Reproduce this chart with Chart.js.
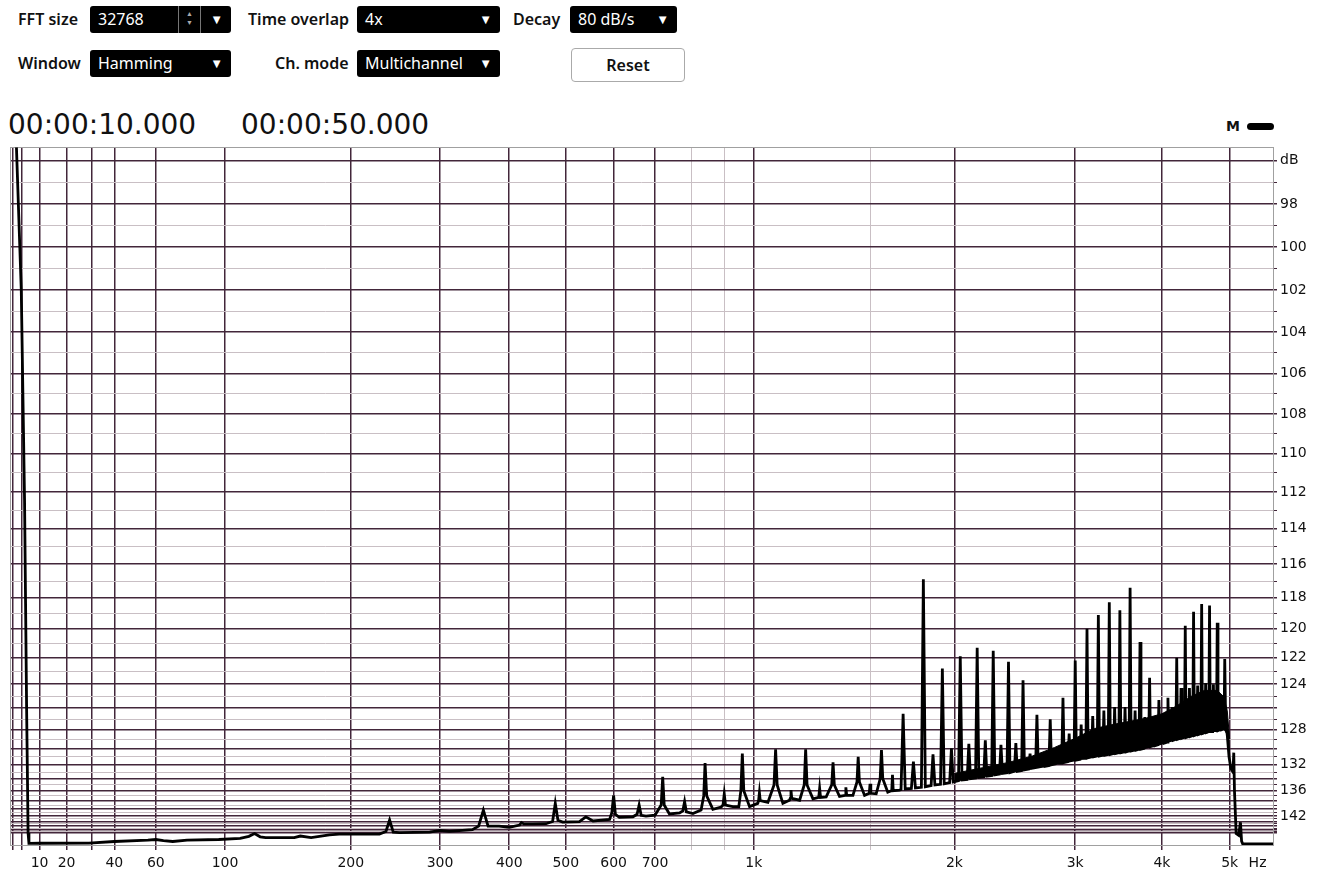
<!DOCTYPE html>
<html>
<head>
<meta charset="utf-8">
<script src="https://cdn.jsdelivr.net/npm/chart.js@4.4.1/dist/chart.umd.min.js"></script>
<style>
  body { margin: 0; background: #fff; width: 1323px; height: 875px; overflow: hidden; position: relative; }
  .lbl { position: absolute; font: 600 16px "Liberation Sans Narrow", "Arial Narrow", "Noto Sans", sans-serif; color: #111; line-height: 27px; white-space: nowrap; }
  .sel { position: absolute; background: #000; color: #fff; border-radius: 3px; height: 27px; box-sizing: border-box;
         padding-left: 8px; font: 16px "Liberation Sans Narrow", "Arial Narrow", "Noto Sans", sans-serif; line-height: 27px; white-space: nowrap; }
  .sel .arr { position: absolute; right: 8px; top: 0; font-size: 13px; }
  .sel .sep { position: absolute; top: 0; width: 1px; height: 27px; background: #777; }
  .sel .spin { position: absolute; top: 3px; font-size: 7px; line-height: 9px; color: #aaa; }
  .btn { position: absolute; left: 571px; top: 48px; width: 114px; height: 34px; box-sizing: border-box; border: 1px solid #aaa;
         border-radius: 4px; background: #fff; text-align: center; font: 600 16px "Liberation Sans Narrow", "Arial Narrow", "Noto Sans", sans-serif; line-height: 32px; color: #111; }
  .time { position: absolute; top: 109px; font: 28px "DejaVu Sans", sans-serif; line-height: 32px; color: #111; }
  .leg { position: absolute; left: 1226px; top: 118px; font: bold 14px "DejaVu Sans", sans-serif; color: #111; }
  .legbar { position: absolute; left: 1247px; top: 123px; width: 27px; height: 7px; border-radius: 4px; background: #000; }
  #wrap { position: absolute; left: 0; top: 136px; width: 1323px; height: 739px; }
</style>
</head>
<body>
<div class="lbl" style="left:18px;top:6px">FFT size</div>
<div class="sel" style="left:90px;top:6px;width:141px">32768
  <span class="sep" style="left:88px"></span><span class="spin" style="left:96px">▲<br>▼</span>
  <span class="sep" style="left:110px"></span><span class="arr">▼</span></div>
<div class="lbl" style="left:248px;top:6px">Time overlap</div>
<div class="sel" style="left:357px;top:6px;width:143px">4x<span class="arr">▼</span></div>
<div class="lbl" style="left:513px;top:6px">Decay</div>
<div class="sel" style="left:570px;top:6px;width:107px">80 dB/s<span class="arr">▼</span></div>

<div class="lbl" style="left:18px;top:50px">Window</div>
<div class="sel" style="left:90px;top:50px;width:141px">Hamming<span class="arr">▼</span></div>
<div class="lbl" style="left:275px;top:50px">Ch. mode</div>
<div class="sel" style="left:357px;top:50px;width:143px">Multichannel<span class="arr">▼</span></div>
<div class="btn">Reset</div>

<div class="time" style="left:8px">00:00:10.000</div>
<div class="time" style="left:241px">00:00:50.000</div>
<div class="leg">M</div><div class="legbar"></div>

<div id="wrap"><canvas id="spectrum" width="1323" height="739"></canvas></div>

<script>
// spectrum trace (Hz / dB below full scale)
const specHz = [
  1.6, 2.1, 3.7, 4.8, 5.5, 5.8, 6.0, 6.3, 10, 29, 40, 56, 60, 64, 69, 77, 96, 110,
  116, 120, 124, 128, 150, 155, 164, 180, 189, 229, 236, 240, 244, 251, 287, 300, 312,
  344, 353, 360, 367, 384, 400, 417, 420, 424, 439, 463, 475, 480, 485, 494, 527, 540, 555,
  591, 596, 600, 604, 613, 645, 655, 660, 665, 677, 700, 716, 720, 724, 738, 766, 775, 780, 785, 804, 828,
  836, 840, 845, 864, 890, 896, 900, 904, 928, 948, 955, 960, 965, 985, 1014, 1017, 1020, 1023, 1051,
  1074, 1080, 1086, 1108, 1134, 1137, 1140, 1143, 1175, 1194, 1200, 1206, 1231, 1256, 1260, 1264, 1289,
  1314, 1320, 1326, 1350, 1376, 1380, 1384, 1414, 1434, 1440, 1446, 1472, 1496, 1500, 1504, 1532,
  1553, 1560, 1567, 1594, 1616, 1620, 1624, 1659,
  1668, 1680, 1692, 1728, 1740, 1752, 1788, 1800, 1812, 1848, 1860, 1872,
  1908, 1920, 1932, 1968, 1980, 1992, 2028, 2040, 2052, 2088, 2100, 2112,
  2148, 2160, 2172, 2208, 2220, 2232, 2268, 2280, 2292, 2328, 2340, 2352,
  2388, 2400, 2412, 2448, 2460, 2472, 2508, 2520, 2532, 2568, 2580, 2592,
  2628, 2640, 2652, 2688, 2700, 2712, 2748, 2760, 2772, 2808, 2820, 2832,
  2868, 2880, 2892, 2928, 2940, 2952, 2988, 3000, 3012, 3048, 3060, 3072,
  3108, 3120, 3132, 3168, 3180, 3192, 3228, 3240, 3252, 3288, 3300, 3312,
  3348, 3360, 3372, 3408, 3420, 3432, 3468, 3480, 3492, 3528, 3540, 3552,
  3588, 3600, 3612, 3648, 3660, 3672, 3708, 3720, 3732, 3768, 3780, 3792,
  3828, 3840, 3852, 3888, 3900, 3912, 3948, 3960, 3972, 4008, 4020, 4032,
  4068, 4080, 4092, 4128, 4140, 4152, 4188, 4200, 4212, 4248, 4260, 4272,
  4308, 4320, 4332, 4368, 4380, 4392, 4428, 4440, 4452, 4488, 4500, 4512,
  4548, 4560, 4572, 4608, 4620, 4632, 4668, 4680, 4692, 4728, 4740, 4752,
  4788, 4800, 4812, 4848, 4860, 4872, 4908, 4920, 4935,
  4960, 4990, 5020, 5055, 5068, 5080, 5108, 5150, 5181, 5200, 5220, 5765
];
const specDb = [
  88, 95.4, 102, 112.4, 126, 134.4, 150, 168, 167, 166, 161, 158, 157, 159, 161, 158, 157, 155.5,
  153, 150.5, 153.5, 154.5, 154.5, 152.7, 154.5, 151.6, 150.9, 150.9, 149, 143.4, 149.5, 149.8, 149.5, 148.3, 149,
  147.9, 146, 140.3, 146, 146, 146.6, 145.5, 144.4, 145, 145, 144.9, 144, 138.6, 143.5, 144.2, 144, 142.3, 143.8,
  143.2, 141, 136.9, 141.5, 142.5, 142.3, 141.5, 139.0, 141.8, 142.1, 141.8, 139, 133.7, 139, 141.4, 141.1, 140.5, 138.2, 140.8, 141.3, 140.3,
  137, 131.8, 137, 140.1, 139.5, 139, 136.6, 139, 139.4, 139.4, 136, 130.6, 136, 139.4, 138.6, 138, 136.4, 138, 138.4,
  135, 130.1, 135, 138.6, 137.9, 137.5, 135.9, 137.5, 137.9, 135, 130.1, 135, 137.6, 137.3, 135.6, 137.3, 137.2,
  135, 131.7, 135, 137.1, 136.9, 135.4, 136.9, 136.9, 134.5, 131, 134.5, 136.9, 136.5, 134.8, 136.5, 136.6,
  134, 130.2, 134, 136.3, 136, 133.4, 136, 135.9,
  135.8, 126.5, 135.7, 135.6, 131.6, 135.5, 135.4, 116.9, 135.3, 135.1, 130.7, 135.0,
  134.9, 122.8, 134.8, 134.6, 130.0, 134.5, 134.3, 121.9, 134.2, 134.1, 129.5, 134.0,
  133.9, 121.3, 133.8, 133.7, 129.1, 133.6, 133.5, 121.5, 133.4, 133.3, 129.6, 133.2,
  133.1, 122.3, 133.1, 132.9, 129.4, 132.9, 132.8, 123.7, 132.7, 132.6, 130.6, 132.5,
  132.4, 126.6, 132.3, 132.2, 130.5, 132.2, 132.1, 127.0, 132.0, 131.9, 130.0, 131.8,
  131.8, 125.1, 131.7, 131.6, 128.4, 131.5, 131.4, 122.2, 131.4, 131.3, 127.5, 131.2,
  131.2, 120.0, 131.1, 131.0, 126.7, 131.0, 130.9, 119.1, 130.9, 130.8, 126.2, 130.8,
  130.7, 118.3, 130.7, 130.6, 125.9, 130.6, 130.5, 118.8, 130.5, 130.4, 125.9, 130.4,
  130.3, 117.4, 130.3, 130.2, 126.2, 130.2, 130.1, 120.9, 130.1, 130.0, 126.8, 129.9,
  129.8, 123.5, 129.8, 129.7, 127.1, 129.7, 129.6, 125.3, 129.5, 129.4, 127.3, 129.4,
  129.3, 125.1, 129.2, 129.1, 125.9, 129.1, 129.0, 122.0, 129.0, 128.9, 124.3, 128.9,
  128.8, 119.8, 128.8, 128.7, 124.3, 128.7, 128.6, 118.9, 128.6, 128.5, 124.1, 128.5,
  128.4, 118.4, 128.4, 128.3, 123.9, 128.3, 128.2, 118.5, 128.2, 128.2, 124.0, 128.1,
  128.1, 119.6, 128.1, 128.0, 125.3, 128.0, 127.9, 122.1, 127.5,
  128.5, 131, 132.5, 133, 130.5, 136, 150.5, 152, 144.3, 160, 172, 172
];

// dense noise band between 2k and 5k: lower and upper edge
const noiseHz = [2000, 2200, 2400, 2600, 2800, 3000, 3200, 3400, 3600, 3800, 4000, 4200, 4400, 4600, 4800, 4900, 4960, 5000];
const noiseLowDb = [134.4, 133.7, 133.1, 132.5, 131.9, 131.4, 131.0, 130.7, 130.3, 129.9, 129.4, 129.0, 128.7, 128.4, 128.1, 127.9, 128.5, 131];
const noiseHighDb = [133.2, 132.4, 131.7, 130.9, 129.9, 128.9, 127.9, 127.5, 127.2, 126.9, 126.5, 125.8, 125.0, 124.5, 124.5, 125.0, 126.2, 129];

// axes
const xTickHz = [1, 4, 10, 20, 30, 40, 60, 100, 200, 300, 400, 500, 600, 700, 800, 900, 1000, 1500, 2000, 3000, 4000, 5000, 5480];
const xTickText = ['', '', '10', '20', '', '40', '60', '100', '200', '300', '400', '500', '600', '700', '', '', '1k', '', '2k', '3k', '4k', '5k', 'Hz'];
const xLightHz = [800, 900, 1500];
const xUnitHz = 5480;
const yLabelDb = [98, 100, 102, 104, 106, 108, 110, 112, 114, 116, 118, 120, 122, 124, 128, 132, 136, 142];
const yUnitDb = 96;
const yGridDb = [];
for (let d = 96; d <= 150; d++) yGridDb.push(d);

const DARK = '#42263a';
const LIGHT = '#c9bfc4';

// warped axes: frequency ~ ln(f + 100), level ~ ln(1 + amplitude)
const warps = {
  x: f => Math.log(f + 100),
  y: db => Math.log(1 + Math.pow(10, (126.1 - db) / 20))
};
class WarpScale extends Chart.LinearScale {
  getPixelForValue(value) {
    const w = warps[this.id];
    const a = w(this.min), b = w(this.max);
    return this.getPixelForDecimal((w(value) - a) / (b - a));
  }
}
WarpScale.id = 'warp';
WarpScale.defaults = {};
Chart.register(WarpScale);

const frame = {
  id: 'frame',
  beforeDatasetsDraw(chart) {
    const { ctx, chartArea: a } = chart;
    ctx.save();
    ctx.strokeStyle = '#a0a0a0';
    ctx.lineWidth = 1;
    ctx.strokeRect(Math.round(a.left) + 0.5, Math.round(a.top) + 0.5, Math.round(a.right - a.left), Math.round(a.bottom - a.top));
    ctx.restore();
  }
};

const pts = (xs, ys) => xs.map((x, i) => ({ x: x, y: ys[i] }));

new Chart(document.getElementById('spectrum'), {
  type: 'line',
  data: {
    datasets: [
      {
        label: 'noise low',
        data: pts(noiseHz, noiseLowDb),
        borderColor: '#000',
        borderWidth: 1,
        pointRadius: 0,
        fill: false
      },
      {
        label: 'noise high',
        data: pts(noiseHz, noiseHighDb),
        borderColor: '#000',
        borderWidth: 1,
        backgroundColor: '#000',
        pointRadius: 0,
        fill: '-1'
      },
      {
        label: 'M',
        data: pts(specHz, specDb),
        borderColor: '#000',
        borderWidth: 2.8,
        pointRadius: 0,
        tension: 0,
        fill: false
      }
    ]
  },
  options: {
    responsive: false,
    animation: false,
    devicePixelRatio: 1,
    layout: { padding: { left: 10, top: 0, right: 0, bottom: 0 } },
    plugins: { legend: { display: false }, tooltip: { enabled: false } },
    scales: {
      x: {
        type: 'warp',
        min: 0,
        max: 5765,
        afterBuildTicks: scale => { scale.ticks = xTickHz.map(v => ({ value: v })); },
        afterFit: scale => { scale.height = 30; },
        border: { display: false },
        grid: {
          tickLength: 5,
          lineWidth: c => xLightHz.includes(c.tick.value) ? 1 : 1.5,
          color: c => c.tick.value === xUnitHz ? 'rgba(0,0,0,0)' : (xLightHz.includes(c.tick.value) ? LIGHT : DARK)
        },
        ticks: {
          autoSkip: false,
          maxRotation: 0,
          padding: 5,
          color: '#111',
          font: { family: 'DejaVu Sans', size: 14 },
          callback: (v, i) => xTickText[i]
        }
      },
      y: {
        type: 'warp',
        position: 'right',
        reverse: true,
        min: 95.4,
        max: 400,
        afterBuildTicks: scale => { scale.ticks = yGridDb.map(v => ({ value: v })); },
        afterFit: scale => { scale.width = 50; },
        border: { display: false },
        grid: {
          tickLength: 4,
          tickColor: DARK,
          lineWidth: c => c.tick.value % 2 ? 1 : 1.5,
          color: c => c.tick.value % 2 ? LIGHT : DARK
        },
        ticks: {
          autoSkip: false,
          padding: 3,
          color: '#111',
          font: { family: 'DejaVu Sans', size: 14 },
          callback: v => v === yUnitDb ? 'dB' : (yLabelDb.includes(v) ? String(v) : '')
        }
      }
    }
  },
  plugins: [frame]
});
</script>
</body>
</html>
